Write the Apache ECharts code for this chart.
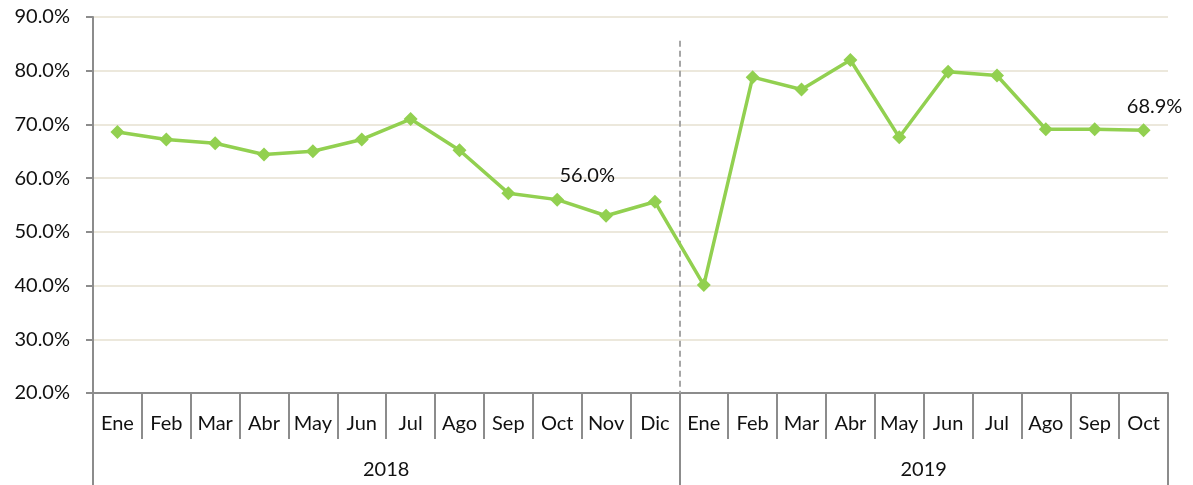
<!DOCTYPE html>
<html>
<head>
<meta charset="utf-8">
<script src="https://cdn.jsdelivr.net/npm/echarts@6/dist/echarts.min.js"></script>
<style>
  html, body { margin: 0; padding: 0; background: #fff; }
  #chart { width: 1193px; height: 485px; }
</style>
</head>
<body>
<div id="chart"></div>
<script>
// Monthly rate, Jan 2018 – Oct 2019
const months = ['Ene','Feb','Mar','Abr','May','Jun','Jul','Ago','Sep','Oct','Nov','Dic',
                'Ene','Feb','Mar','Abr','May','Jun','Jul','Ago','Sep','Oct'];
const years = ['2018', '2019'];
const yearSpans = [12, 10];          // months shown per year
const rates = [68.6, 67.2, 66.5, 64.4, 65.0, 67.2, 71.0, 65.2, 57.2, 56.0, 53.0, 55.6,
               40.1, 78.8, 76.5, 82.0, 67.6, 79.8, 79.1, 69.1, 69.1, 68.9];
const labelled = { 9: [30, 0], 21: [11, 0] };   // index -> label offset
const yTicks = { min: 20, max: 90, step: 10 };

const FONT = 'Lato, "Open Sans", sans-serif';
const FS = 20;
const AXIS = '#8c8c8c';

// boundaries and centres of the year groups on a 0..N value scale
const bounds = [0];
yearSpans.forEach(n => bounds.push(bounds[bounds.length - 1] + n));
const centres = yearSpans.map((n, i) => bounds[i] + n / 2);
const total = bounds[bounds.length - 1];

const chart = echarts.init(document.getElementById('chart'));
chart.setOption({
  animation: false,
  grid: { left: 93, right: 25, top: 17, bottom: 92, containLabel: false },
  xAxis: [
    {
      type: 'category',
      data: months,
      boundaryGap: true,
      axisLine: { show: true, lineStyle: { color: AXIS, width: 2 } },
      axisTick: { show: true, interval: 0, length: 46, lineStyle: { color: AXIS, width: 2 } },
      axisLabel: { interval: 0, margin: 21, color: '#111', fontSize: FS, fontFamily: FONT },
      splitLine: { show: false }
    },
    {
      type: 'value',
      position: 'bottom',
      min: 0, max: total,
      axisLine: { show: false },
      axisTick: { show: true, customValues: bounds, length: 92, lineStyle: { color: AXIS, width: 2 } },
      axisLabel: {
        show: true, customValues: centres, margin: 67,
        color: '#111', fontSize: FS, fontFamily: FONT,
        formatter: v => years[centres.indexOf(v)] || ''
      },
      splitLine: { show: false }
    }
  ],
  yAxis: {
    type: 'value',
    min: yTicks.min, max: yTicks.max, interval: yTicks.step,
    axisLine: { show: true, lineStyle: { color: AXIS, width: 2 } },
    axisTick: { show: true, length: 7, lineStyle: { color: AXIS, width: 2 } },
    axisLabel: { margin: 23, color: '#111', fontSize: FS, fontFamily: FONT,
                 formatter: v => v.toFixed(1) + '%' },
    splitLine: { show: true, lineStyle: { color: '#ece8dc', width: 2 } }
  },
  series: [
    {
      type: 'line',
      xAxisIndex: 0,
      data: rates.map((v, i) => labelled[i]
        ? { value: v, label: { show: true, position: 'top', distance: 7, offset: labelled[i],
            formatter: p => p.value.toFixed(1) + '%', color: '#111', fontSize: FS, fontFamily: FONT } }
        : v),
      symbol: 'diamond',
      symbolSize: 14,
      lineStyle: { color: '#92d050', width: 3.5 },
      itemStyle: { color: '#92d050' },
      label: { show: false },
      z: 5
    },
    {
      // year divider
      type: 'line',
      xAxisIndex: 1,
      data: [],
      markLine: {
        silent: true,
        symbol: 'none',
        label: { show: false },
        lineStyle: { color: '#a6a6a6', width: 2, type: [6, 4] },
        data: [[ { coord: [bounds[1], 85.6] }, { coord: [bounds[1], yTicks.min] } ]]
      }
    }
  ]
});
</script>
</body>
</html>
